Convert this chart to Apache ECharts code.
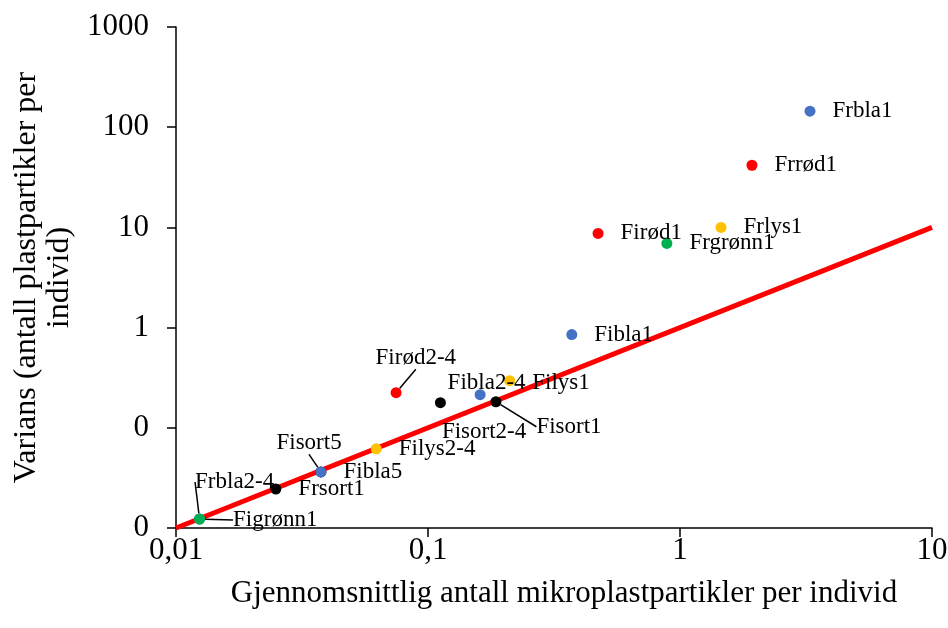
<!DOCTYPE html>
<html>
<head>
<meta charset="utf-8">
<script src="https://cdn.jsdelivr.net/npm/echarts@6/dist/echarts.min.js"></script>
<style>
  html, body { margin: 0; padding: 0; background: #fff; }
  #chart { width: 948px; height: 628px; }
</style>
</head>
<body>
<div id="chart"></div>
<script>
// Mean number of microplastic particles per individual vs. variance, per sample group
const sampleNames = ['Frbla1', 'Frrød1', 'Frlys1', 'Firød1', 'Frgrønn1', 'Fibla1', 'Filys1',
  'Fibla2-4', 'Fisort1', 'Fisort2-4', 'Firød2-4', 'Filys2-4', 'Fisort5', 'Fibla5',
  'Frsort1', 'Frbla2-4', 'Figrønn1'];
const meanCounts = [3.28, 1.93, 1.455, 0.473, 0.887, 0.372, 0.211,
  0.161, 0.186, 0.112, 0.0747, 0.0623, 0.0376, 0.0376,
  0.0249, 0.0124, 0.0124];
const variances = [144.5, 41.7, 10.0, 8.71, 6.92, 0.851, 0.295,
  0.214, 0.182, 0.178, 0.224, 0.0617, 0.0363, 0.0363,
  0.0245, 0.0123, 0.0123];

// Reference line variance = mean
const refLineX = [0.01, 10];
const refLineY = [0.01, 10];

const xTickLabels = { '0.01': '0,01', '0.1': '0,1', '1': '1', '10': '10' };

// Marker colour follows the colour word in the sample name
const colourByWord = { 'bla': '#4472C4', 'rød': '#FF0000', 'lys': '#FFC000', 'grønn': '#00B050', 'sort': '#000000' };
function colourFor(name) {
  for (const w in colourByWord) if (name.indexOf(w) >= 0) return colourByWord[w];
  return '#000';
}

// Label placement tweaks (offset from default right-hand position)
const labelShift = {
  'Filys1': { dx: 0, dy: 2 },
  'Fibla2-4': { dx: -55, dy: -12 },
  'Fisort1': { dx: 18, dy: 25, line: true },
  'Fisort2-4': { dx: -21, dy: 29 },
  'Firød2-4': { dx: -43, dy: -35, line: true },
  'Fisort5': { dx: -67, dy: -29, line: true },
  'Frbla2-4': { dx: -27, dy: -37, line: true },
  'Figrønn1': { dx: 11, dy: 1, line: true }
};

const font = 'Liberation Serif, Times New Roman, serif';

const points = sampleNames.map((n, i) => ({
  name: n,
  value: [meanCounts[i], variances[i]],
  itemStyle: { color: colourFor(n), opacity: 1 },
  labelLine: { show: !!(labelShift[n] && labelShift[n].line), lineStyle: { color: '#000', width: 1.5, opacity: 1 } }
}));

const chart = echarts.init(document.getElementById('chart'), null, { renderer: 'canvas' });
chart.setOption({
  animation: false,
  backgroundColor: '#fff',
  grid: { left: 176, right: 16, top: 27, bottom: 100, containLabel: false, outerBoundsMode: 'none' },
  xAxis: {
    type: 'log', logBase: 10, min: 0.01, max: 10,
    name: 'Gjennomsnittlig antall mikroplastpartikler per individ',
    nameLocation: 'middle', nameGap: 50,
    nameTextStyle: { fontFamily: font, fontSize: 31, color: '#000', padding: [0, 0, 0, 20] },
    axisLine: { show: true, lineStyle: { color: '#000', width: 1.5 } },
    axisTick: { show: true, length: 9, lineStyle: { color: '#000', width: 1.5 } },
    minorTick: { show: false },
    splitLine: { show: false },
    axisLabel: {
      fontFamily: font, fontSize: 31, color: '#000', margin: 7,
      formatter: v => xTickLabels[String(+v.toPrecision(6))] || String(v)
    }
  },
  yAxis: {
    type: 'log', logBase: 10, min: 0.01, max: 1000,
    name: 'Varians (antall plastpartikler per\nindivid)',
    nameLocation: 'middle', nameGap: 94, nameRotate: 90,
    nameTextStyle: { fontFamily: font, fontSize: 32, color: '#000', lineHeight: 33 },
    axisLine: { show: true, lineStyle: { color: '#000', width: 1.5 } },
    axisTick: { show: true, length: 9, lineStyle: { color: '#000', width: 1.5 } },
    splitLine: { show: false },
    axisLabel: {
      fontFamily: font, fontSize: 31, color: '#000', margin: 27,
      formatter: v => v < 1 ? '0' : String(Math.round(v))
    }
  },
  series: [
    {
      type: 'line',
      data: refLineX.map((x, i) => [x, refLineY[i]]),
      showSymbol: false,
      lineStyle: { color: '#FF0000', width: 5 },
      z: 1,
      silent: true
    },
    {
      type: 'scatter',
      symbolSize: 11,
      data: points,
      z: 3,
      label: {
        show: true, position: 'right', distance: 17,
        formatter: p => p.name,
        fontFamily: font, fontSize: 23, color: '#000', opacity: 1
      },
      labelLayout: params => {
        const s = labelShift[sampleNames[params.dataIndex]];
        return s ? { dx: s.dx, dy: s.dy } : {};
      }
    }
  ]
});
</script>
</body>
</html>
